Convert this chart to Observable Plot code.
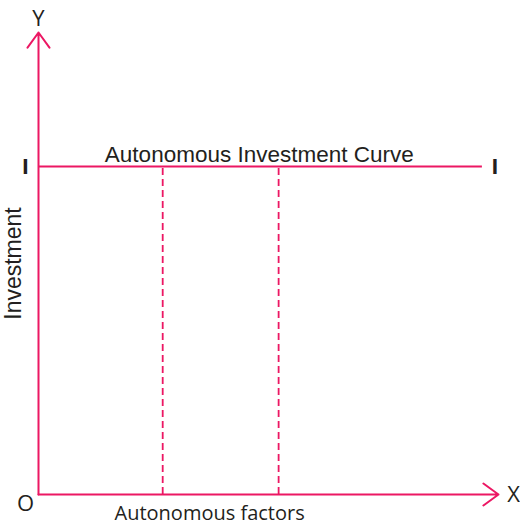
<!DOCTYPE html>
<html>
<head>
<meta charset="utf-8">
<script src="https://cdn.jsdelivr.net/npm/d3@7"></script>
<script src="https://cdn.jsdelivr.net/npm/@observablehq/plot@0.6"></script>
<style>
  html, body { margin: 0; padding: 0; background: #fff; }
  #chart svg { display: block; }
</style>
</head>
<body>
<div id="chart"></div>
<script>
// ---- data ----
const axisMax = 100;                 // axis extent (arbitrary units)
const investmentLevel = 71;          // level of autonomous investment (I)
const curveEnd = 96.5;               // where the investment line ends on X
const factorPositions = [27, 52.2];  // autonomous factor levels (dashed lines)
const curveLabel = "Autonomous Investment Curve";
const xAxisLabel = "Autonomous factors";
const yAxisLabel = "Investment";
const xName = "X", yName = "Y", originName = "O", levelName = "I";

const pink = "#ec1763";
const ink = "#231f20";
const helv = "Liberation Sans, Arial, sans-serif";
const myriad = "Open Sans, Noto Sans, sans-serif";

const axes = [
  {x1: 0, y1: 0, x2: 0, y2: axisMax},
  {x1: 0, y1: 0, x2: axisMax, y2: 0}
];

const chart = Plot.plot({
  width: 520,
  height: 525,
  marginLeft: 38,
  marginRight: 22,
  marginTop: 32,
  marginBottom: 31,
  x: {domain: [0, axisMax], axis: null},
  y: {domain: [0, axisMax], axis: null},
  marks: [
    Plot.ruleX(factorPositions, {y1: 0, y2: investmentLevel, stroke: pink, strokeWidth: 1.8, strokeDasharray: "7,4"}),
    Plot.ruleY([investmentLevel], {x1: 0, x2: curveEnd, stroke: pink, strokeWidth: 2}),
    Plot.arrow(axes, {x1: "x1", y1: "y1", x2: "x2", y2: "y2", stroke: pink, strokeWidth: 2, headLength: 14, headAngle: 72, bend: 0}),
    Plot.text([curveLabel], {x: 48, y: investmentLevel, text: d => d, lineAnchor: "bottom", dy: -4, fontSize: 22.5, fontFamily: helv, fill: ink}),
    Plot.text([yAxisLabel], {x: 0, y: axisMax / 2, text: d => d, rotate: -90, dx: -25, fontSize: 23, fontFamily: helv, fill: ink}),
    Plot.text([xAxisLabel], {x: 37.2, y: 0, text: d => d, lineAnchor: "bottom", dy: 25, fontSize: 20, fontFamily: myriad, fill: ink}),
    Plot.text([yName], {x: 0, y: axisMax, text: d => d, dy: -14, fontSize: 22, fontFamily: myriad, fill: ink}),
    Plot.text([xName], {x: axisMax, y: 0, text: d => d, dx: 15, fontSize: 22, fontFamily: myriad, fill: ink}),
    Plot.text([originName], {x: 0, y: 0, text: d => d, dx: -13, dy: 9, fontSize: 22, fontFamily: myriad, fill: ink}),
    Plot.text([levelName], {x: 0, y: investmentLevel, text: d => d, dx: -13, fontSize: 22, fontWeight: "bold", fontFamily: myriad, fill: ink}),
    Plot.text([levelName], {x: curveEnd, y: investmentLevel, text: d => d, dx: 12.5, fontSize: 22, fontWeight: "bold", fontFamily: myriad, fill: ink})
  ]
});
document.getElementById("chart").appendChild(chart);
</script>
</body>
</html>
